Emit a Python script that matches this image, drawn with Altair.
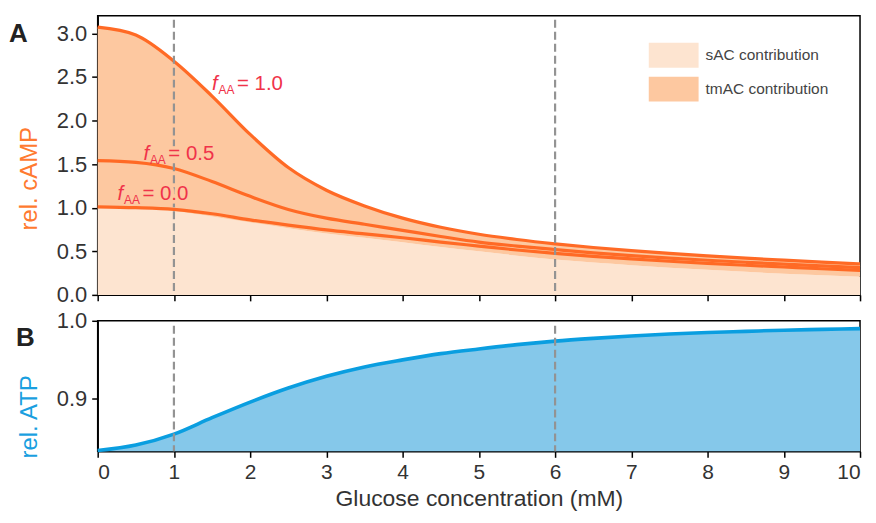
import altair as alt
import pandas as pd

# ---------------- data ----------------
glucose = [0, 0.5, 1, 1.5, 2, 2.5, 3, 3.5, 4, 4.5, 5, 5.5, 6, 6.5, 7, 7.5, 8, 8.5, 9, 9.5, 10]
camp_f10 = [3.07, 2.98, 2.68, 2.28, 1.84, 1.46, 1.20, 1.02, 0.88, 0.775, 0.695, 0.635, 0.585, 0.543, 0.507, 0.475, 0.447, 0.421, 0.398, 0.376, 0.355]
camp_f05 = [1.54, 1.52, 1.45, 1.30, 1.13, 0.98, 0.88, 0.81, 0.74, 0.67, 0.605, 0.56, 0.52, 0.482, 0.45, 0.422, 0.397, 0.374, 0.352, 0.332, 0.313]
camp_f00 = [1.01, 1.00, 0.98, 0.93, 0.86, 0.80, 0.745, 0.70, 0.655, 0.605, 0.56, 0.515, 0.475, 0.441, 0.412, 0.386, 0.362, 0.34, 0.32, 0.30, 0.282]
camp_sac = [1.00, 0.99, 0.96, 0.90, 0.83, 0.765, 0.705, 0.655, 0.605, 0.55, 0.50, 0.45, 0.405, 0.37, 0.34, 0.312, 0.287, 0.264, 0.243, 0.224, 0.207]
atp = [0.834, 0.841, 0.855, 0.876, 0.896, 0.914, 0.929, 0.941, 0.950, 0.958, 0.964, 0.9695, 0.974, 0.9775, 0.9805, 0.983, 0.985, 0.9865, 0.988, 0.989, 0.990]

vlines = [1, 6]
parts = ["sAC contribution", "tmAC contribution"]
f_labels = ["= 0.0", "= 0.5", "= 1.0"]
f_label_x = [0.26, 0.60, 1.50]
f_label_y = [1.085, 1.55, 2.35]
f_label_halo = [True, True, False]
x_ticks = list(range(0, 11))
camp_ticks = [0.0, 0.5, 1.0, 1.5, 2.0, 2.5, 3.0]
atp_ticks = [0.9, 1.0]

# ---------------- styles ----------------
FONT = "Liberation Sans"
ORANGE = "#ff6a25"
SAC_COL = "#fde4d0"
TMAC_COL = "#fdc8a0"
RED_TXT = "#f0334a"
BLUE_LINE = "#0a9ee0"
BLUE_FILL = "#85c8ea"
DASH_COL = "#939393"
W = 765
HA = 280
HB = 131

# ---------------- tables ----------------
area_rows = []
for i, g in enumerate(glucose):
    area_rows.append({"x": g, "lo": 0.0, "hi": camp_sac[i], "part": parts[0]})
    area_rows.append({"x": g, "lo": camp_sac[i], "hi": camp_f10[i], "part": parts[1]})
area_df = pd.DataFrame(area_rows)

line_rows = []
for name, vals in [("0.0", camp_f00), ("0.5", camp_f05), ("1.0", camp_f10)]:
    for g, v in zip(glucose, vals):
        line_rows.append({"x": g, "y": v, "f": name})
line_df = pd.DataFrame(line_rows)

atp_df = pd.DataFrame({"x": glucose, "y": atp})
vl_df = pd.DataFrame({"x": vlines})
lab_df = pd.DataFrame({"x": f_label_x, "y": f_label_y, "t": f_labels, "f": ["f"] * 3,
                       "s": ["AA"] * 3, "halo": f_label_halo})

xscale = alt.Scale(domain=[0, 10], nice=False)
part_scale = alt.Scale(domain=parts, range=[SAC_COL, TMAC_COL])

x_top = alt.X("x:Q", scale=xscale,
              axis=alt.Axis(values=x_ticks, labels=False, title=None, tickSize=6,
                            tickWidth=1.5, tickColor="black", domainColor="black",
                            domainWidth=1.5, grid=False))
x_bot = alt.X("x:Q", scale=xscale,
              axis=alt.Axis(values=x_ticks, format="d", title="Glucose concentration (mM)",
                            tickSize=6, tickWidth=1.5, tickColor="black", domainColor="black",
                            domainWidth=1.5, grid=False, labelFontSize=21, labelColor="#333",
                            titleFontSize=23, titleColor="#333", titleFontWeight="normal",
                            labelFont=FONT, titleFont=FONT, labelPadding=4, titlePadding=5))

yA_scale = alt.Scale(domain=[0, 3.2], nice=False)
yA_axis = alt.Axis(values=camp_ticks, format=".1f", title="rel. cAMP", tickSize=6,
                   tickWidth=1.5, tickColor="black", domainColor="black", domainWidth=1.5,
                   grid=False, labelFontSize=22, labelColor="#333", titleFontSize=24,
                   titleColor="#ff7a30", titleFontWeight="normal", labelFont=FONT,
                   titleFont=FONT, labelPadding=5, titlePadding=15, titleY=163)

areas = alt.Chart(area_df).mark_area(opacity=1, interpolate="monotone").encode(
    x=x_top,
    y=alt.Y("hi:Q", scale=yA_scale, axis=yA_axis),
    y2="lo:Q",
    color=alt.Color("part:N", scale=part_scale, legend=None),
    order=alt.Order("part:N"),
)

lines = alt.Chart(line_df).mark_line(color=ORANGE, strokeWidth=3.2, interpolate="monotone").encode(
    x="x:Q", y="y:Q", detail="f:N")

rules_top = alt.Chart(vl_df).mark_rule(color=DASH_COL, strokeWidth=2.2, strokeDash=[8, 4]).encode(
    x="x:Q", y=alt.value(4), y2=alt.value(HA))

txt_halo = alt.Chart(lab_df).transform_filter(alt.datum.halo).mark_text(
    align="left", baseline="alphabetic", font=FONT, fontSize=20.5, color=TMAC_COL,
    stroke=TMAC_COL, strokeWidth=7, dx=25).encode(x="x:Q", y="y:Q", text="t:N")
txt_f = alt.Chart(lab_df).mark_text(align="left", baseline="alphabetic", font=FONT,
                                    fontSize=20.5, fontStyle="italic", color=RED_TXT).encode(
    x="x:Q", y="y:Q", text="f:N")
txt_s = alt.Chart(lab_df).mark_text(align="left", baseline="alphabetic", font=FONT,
                                    fontSize=12, color=RED_TXT, dx=6.5, dy=4).encode(
    x="x:Q", y="y:Q", text="s:N")
txt_t = alt.Chart(lab_df).mark_text(align="left", baseline="alphabetic", font=FONT,
                                    fontSize=20.5, color=RED_TXT, dx=25).encode(
    x="x:Q", y="y:Q", text="t:N")

# manual legend (swatches + labels)
leg_items = []
for i, p in enumerate(parts):
    y0 = 27 + 34 * i
    leg_items.append(
        alt.Chart(pd.DataFrame({"part": [p]})).mark_rect().encode(
            x=alt.value(553), x2=alt.value(603), y=alt.value(y0), y2=alt.value(y0 + 25),
            color=alt.Color("part:N", scale=part_scale, legend=None)))
    leg_items.append(
        alt.Chart(pd.DataFrame({"part": [p]})).mark_text(
            align="left", baseline="middle", font=FONT, fontSize=15.5, color="#444").encode(
            x=alt.value(610), y=alt.value(y0 + 12.5), text="part:N"))

panel_a_lbl = alt.Chart(pd.DataFrame({"t": ["A"]})).mark_text(
    align="left", baseline="top", font=FONT, fontSize=26, fontWeight="bold", color="#222").encode(
    x=alt.value(-89), y=alt.value(5), text="t:N")

top = alt.layer(areas, lines, rules_top, txt_halo, txt_f, txt_s, txt_t, *leg_items,
                panel_a_lbl).properties(width=W, height=HA)

yB_scale = alt.Scale(domain=[0.833, 1.0], nice=False, zero=False)
yB_axis = alt.Axis(values=atp_ticks, format=".1f", title="rel. ATP", tickSize=6,
                   tickWidth=1.5, tickColor="black", domainColor="black", domainWidth=1.5,
                   grid=False, labelFontSize=22, labelColor="#333", titleFontSize=24,
                   titleColor="#1a9fe0", titleFontWeight="normal", labelFont=FONT,
                   titleFont=FONT, labelPadding=5, titlePadding=15, titleY=96)

atp_area = alt.Chart(atp_df).mark_area(color=BLUE_FILL, opacity=1, interpolate="monotone",
                                       clip=True).encode(
    x=x_bot, y=alt.Y("y:Q", scale=yB_scale, axis=yB_axis))
atp_line = alt.Chart(atp_df).mark_line(color=BLUE_LINE, strokeWidth=3.6,
                                       interpolate="monotone").encode(x="x:Q", y="y:Q")
rules_bot = alt.Chart(vl_df).mark_rule(color=DASH_COL, strokeWidth=2.2, strokeDash=[8, 4]).encode(
    x="x:Q", y=alt.value(5), y2=alt.value(HB))
panel_b_lbl = alt.Chart(pd.DataFrame({"t": ["B"]})).mark_text(
    align="left", baseline="top", font=FONT, fontSize=26, fontWeight="bold", color="#222").encode(
    x=alt.value(-82), y=alt.value(4), text="t:N")

bottom = alt.layer(atp_area, atp_line, rules_bot, panel_b_lbl).properties(width=W, height=HB)

chart = alt.vconcat(top, bottom, spacing=26, bounds="flush").properties(
    padding={"left": 0, "top": 6, "right": 0, "bottom": 0}
).configure(font=FONT).configure_view(stroke="black", strokeWidth=1.5)

chart.save("out.html", embed_options={"renderer": "svg", "actions": False})
